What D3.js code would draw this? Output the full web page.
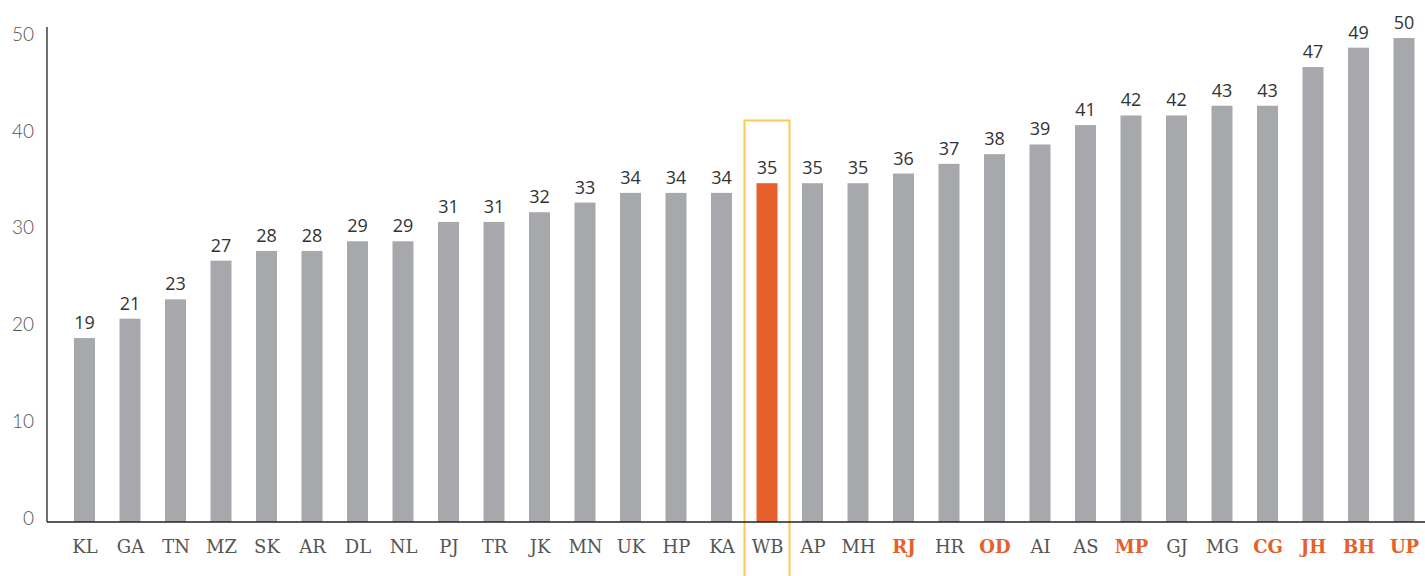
<!DOCTYPE html>
<html>
<head>
<meta charset="utf-8">
<script src="https://cdn.jsdelivr.net/npm/d3@7"></script>
<style>
  body { margin: 0; background: #fff; }
  svg { display: block; }
  .tick text { font-family: Lato, "Open Sans", sans-serif; }
</style>
</head>
<body>
<svg id="chart" width="1425" height="576"></svg>
<script>
// states, ordered by value
var states = ["KL","GA","TN","MZ","SK","AR","DL","NL","PJ","TR","JK","MN","UK","HP","KA",
              "WB","AP","MH","RJ","HR","OD","AI","AS","MP","GJ","MG","CG","JH","BH","UP"];
var values = [19,21,23,27,28,28,29,29,31,31,32,33,34,34,34,
              35,35,35,36,37,38,39,41,42,42,43,43,47,49,50];
var focusState = "WB";
var boldStates = ["RJ","OD","MP","CG","JH","BH","UP"];
var yTicks = [0,10,20,30,40,50];

var svg = d3.select("#chart");
var W = 1425, H = 576;
var orange = "#e5602a", grey = "#a7a8ac";

var x = d3.scalePoint().domain(states).range([84.5, 1404]);
var y = d3.scaleLinear().domain([0, 50]).range([522, 38]);
var barW = 21;

// focus box behind WB
var fx = x(focusState);
svg.append("rect")
    .attr("x", fx - 22.5).attr("y", 120.5)
    .attr("width", 45).attr("height", H)
    .style("fill", "none")
    .style("stroke", "#fdc94f")
    .style("stroke-width", 2);

// bars
svg.append("g").selectAll("rect")
    .data(states)
    .join("rect")
    .attr("x", function(d){ return x(d) - barW/2; })
    .attr("y", function(d, i){ return y(values[i]); })
    .attr("width", barW)
    .attr("height", function(d, i){ return y(0) - y(values[i]); })
    .style("fill", function(d){ return d == focusState ? orange : grey; });

// value labels
svg.append("g").selectAll("text")
    .data(states)
    .join("text")
    .attr("x", function(d){ return x(d); })
    .attr("y", function(d, i){ return y(values[i]) - 9; })
    .attr("text-anchor", "middle")
    .style("font-family", "'Open Sans', sans-serif")
    .style("font-size", "18px")
    .style("fill", "#333")
    .text(function(d, i){ return values[i]; });

// y axis
var yAxis = svg.append("g")
    .attr("transform", "translate(47,0)")
    .call(d3.axisLeft(y).tickValues(yTicks).tickSize(0).tickPadding(13));
yAxis.select(".domain").attr("d", "M0,27V" + y(0)).style("stroke", "#222").style("stroke-width", 1.3);
yAxis.selectAll(".tick text")
    .attr("dy", "0.12em")
    .style("font-size", "19px")
    .style("font-weight", 300)
    .style("fill", "#555");

// x axis
var xAxis = svg.append("g")
    .attr("transform", "translate(0," + y(0) + ")")
    .call(d3.axisBottom(x).tickSize(0).tickPadding(18));
xAxis.select(".domain").attr("d", "M47,0H" + W).style("stroke", "#222").style("stroke-width", 1.3);
xAxis.selectAll(".tick text")
    .style("font-family", "'DejaVu Serif', serif")
    .style("font-size", "18px")
    .style("font-weight", function(d){ return boldStates.indexOf(d) >= 0 ? 700 : 300; })
    .style("fill", function(d){ return boldStates.indexOf(d) >= 0 ? orange : "#555"; });
</script>
</body>
</html>
